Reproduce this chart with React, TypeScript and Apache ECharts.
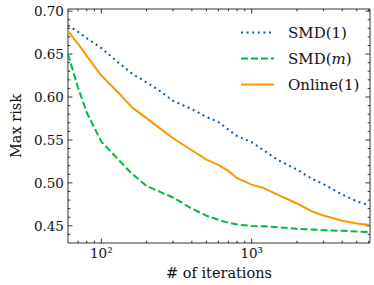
import React, { useEffect, useRef } from "react";
import * as echarts from "echarts";

const iterations = [60, 70, 80, 100, 130, 160, 200, 250, 300, 400, 500, 600, 700, 800, 1000, 1200, 1500, 2000, 2500, 3000, 4000, 5000, 6000];
const smd1 = [0.6835, 0.676, 0.6685, 0.657, 0.640, 0.6273, 0.617, 0.606, 0.5955, 0.586, 0.5767, 0.571, 0.562, 0.5545, 0.5474, 0.538, 0.5265, 0.5155, 0.505, 0.4985, 0.4865, 0.4785, 0.474];
const smdM = [0.650, 0.611, 0.582, 0.548, 0.527, 0.5105, 0.4965, 0.489, 0.483, 0.470, 0.4618, 0.457, 0.4536, 0.4515, 0.4498, 0.4494, 0.4483, 0.4465, 0.4457, 0.4449, 0.4442, 0.4433, 0.4428];
const online1 = [0.677, 0.662, 0.648, 0.625, 0.605, 0.588, 0.5754, 0.5623, 0.552, 0.538, 0.527, 0.521, 0.514, 0.5055, 0.498, 0.494, 0.486, 0.476, 0.467, 0.462, 0.456, 0.4527, 0.4513];

const seriesNames = ["SMD(1)", "SMD(m)", "Online(1)"];
const xMajorTicks = [100, 1000];
const xMinorTicks = [70, 80, 90, 200, 300, 400, 500, 600, 700, 800, 900, 2000, 3000, 4000, 5000, 6000];
const yMajorTicks = [0.45, 0.5, 0.55, 0.6, 0.65, 0.7];
const yMinorTicks = [0.44, 0.46, 0.47, 0.48, 0.49, 0.51, 0.52, 0.53, 0.54, 0.56, 0.57, 0.58, 0.59, 0.61, 0.62, 0.63, 0.64, 0.66, 0.67, 0.68, 0.69];

const X_MIN = 60;
const X_MAX = 6120;
const Y_MIN = 0.43;
const Y_MAX = 0.7025;
const FONT = "DejaVu Serif";
const SUP: Record<number, string> = { 1: "\u00B9", 2: "\u00B2", 3: "\u00B3", 4: "\u2074" };

export default function App() {
  const ref = useRef<HTMLDivElement>(null);
  useEffect(() => {
    document.body.style.margin = "0";
    const chart = echarts.init(ref.current!, undefined, { renderer: "svg" });
    const pair = (ys: number[]) => iterations.map((x, i) => [x, ys[i]]);
    const MAJ = 4.5;
    const MIN = 2.3;
    const xTickData = [
      ...xMajorTicks.map((v) => [v, Y_MIN, MAJ]),
      ...xMinorTicks.map((v) => [v, Y_MIN, MIN]),
    ];
    const yTickData = [
      ...yMajorTicks.map((v) => [100, v, MAJ]),
      ...yMinorTicks.map((v) => [100, v, MIN]),
    ];
    const tickStyle = { stroke: "#000", lineWidth: 0.8 };
    chart.setOption({
      animation: false,
      textStyle: { fontFamily: FONT },
      grid: {
        left: 55,
        right: 4,
        top: 9,
        bottom: 42,
        show: true,
        borderColor: "#000",
        borderWidth: 0.8,
        backgroundColor: "transparent",
      },
      legend: {
        data: seriesNames,
        orient: "vertical",
        left: 240,
        top: 25,
        padding: 0,
        itemWidth: 33,
        itemHeight: 14,
        itemGap: 11,
        itemStyle: { color: "transparent", borderWidth: 0, opacity: 0 },
        formatter: (name: string) => (name === "SMD(m)" ? "SMD({i|m})" : name),
        textStyle: {
          fontFamily: FONT,
          fontSize: 15,
          color: "#111",
          padding: [0, 0, 0, 9],
          rich: { i: { fontFamily: FONT, fontSize: 15, fontStyle: "italic", color: "#111" } },
        },
      },
      xAxis: {
        type: "log",
        logBase: 10,
        min: X_MIN,
        max: X_MAX,
        name: "# of iterations",
        nameLocation: "middle",
        nameGap: 22,
        nameTextStyle: { fontFamily: FONT, fontSize: 14.5, color: "#111" },
        axisLine: { show: false },
        axisTick: { show: false },
        splitLine: { show: false },
        axisLabel: {
          fontFamily: FONT,
          fontSize: 13.5,
          color: "#111",
          margin: 3,
          showMinLabel: false,
          showMaxLabel: false,
          formatter: (v: number) => {
            const l = Math.log10(v);
            const r = Math.round(l);
            return Math.abs(l - r) < 1e-6 ? "10" + (SUP[r] || "") : "";
          },
        },
      },
      yAxis: {
        type: "value",
        min: Y_MIN,
        max: Y_MAX,
        splitNumber: 5,
        name: "Max risk",
        nameLocation: "middle",
        nameGap: 40,
        nameTextStyle: { fontFamily: FONT, fontSize: 14.5, color: "#111" },
        axisLine: { show: false },
        axisTick: { show: false },
        splitLine: { show: false },
        axisLabel: {
          fontFamily: FONT,
          fontSize: 13.5,
          color: "#111",
          margin: 4,
          formatter: (v: number) =>
            Math.abs(v * 20 - Math.round(v * 20)) < 1e-6 ? v.toFixed(2) : "",
        },
      },
      series: [
        {
          name: "SMD(1)",
          type: "line",
          data: pair(smd1),
          symbol: "none",
          color: "#0C5DA5",
          lineStyle: { color: "#0C5DA5", width: 2, type: [2, 3.6] },
        },
        {
          name: "SMD(m)",
          type: "line",
          data: pair(smdM),
          symbol: "none",
          color: "#00B945",
          lineStyle: { color: "#00B945", width: 2, type: [7, 3] },
        },
        {
          name: "Online(1)",
          type: "line",
          data: pair(online1),
          symbol: "none",
          color: "#FF9500",
          lineStyle: { color: "#FF9500", width: 2, type: "solid" },
        },
        {
          type: "custom",
          silent: true,
          data: xTickData,
          encode: { x: 0, y: 1 },
          renderItem: (params: any, api: any) => {
            const p = api.coord([api.value(0), Y_MIN]);
            const cs = params.coordSys;
            const len = api.value(2);
            const b = cs.y + cs.height;
            return {
              type: "group",
              children: [
                { type: "line", shape: { x1: p[0], y1: b, x2: p[0], y2: b - len }, style: tickStyle },
                { type: "line", shape: { x1: p[0], y1: cs.y, x2: p[0], y2: cs.y + len }, style: tickStyle },
              ],
            };
          },
        },
        {
          type: "custom",
          silent: true,
          data: yTickData,
          encode: { x: 0, y: 1 },
          renderItem: (params: any, api: any) => {
            const p = api.coord([100, api.value(1)]);
            const cs = params.coordSys;
            const len = api.value(2);
            const r = cs.x + cs.width;
            return {
              type: "group",
              children: [
                { type: "line", shape: { x1: cs.x, y1: p[1], x2: cs.x + len, y2: p[1] }, style: tickStyle },
                { type: "line", shape: { x1: r, y1: p[1], x2: r - len, y2: p[1] }, style: tickStyle },
              ],
            };
          },
        },
      ],
    });
    return () => chart.dispose();
  }, []);
  return <div ref={ref} style={{ width: 374, height: 285 }} />;
}
